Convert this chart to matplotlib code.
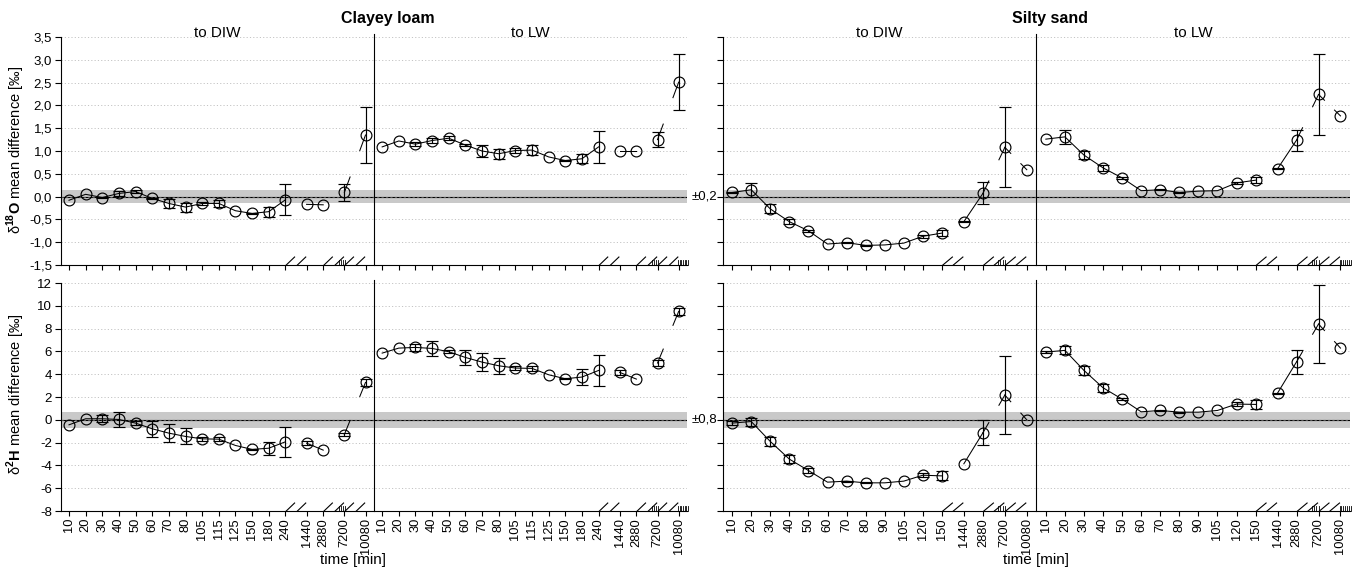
import matplotlib.pyplot as plt
import numpy as np
from matplotlib.ticker import FuncFormatter, MultipleLocator
from matplotlib.transforms import blended_transform_factory

plt.rcParams['font.family'] = ['Liberation Sans', 'DejaVu Sans']
plt.rcParams['mathtext.fontset'] = 'custom'
plt.rcParams['mathtext.rm'] = 'Liberation Sans'
plt.rcParams['mathtext.bf'] = 'Liberation Sans:bold'

# time steps [min]
clay_times = ['10', '20', '30', '40', '50', '60', '70', '80', '105', '115', '125',
              '150', '180', '240', '1440', '2880', '7200', '10080']
sand_times = ['10', '20', '30', '40', '50', '60', '70', '80', '90', '105', '120',
              '150', '1440', '2880', '7200', '10080']

# d18O, clayey loam
clay_o_diw = [-0.08, 0.05, -0.02, 0.07, 0.11, -0.04, -0.15, -0.23, -0.15, -0.15, -0.31,
              -0.37, -0.33, -0.07, -0.17, -0.18, 0.09, 1.35]
clay_o_diw_err = [0, 0, 0.02, 0.05, 0.04, 0.02, 0.1, 0.1, 0.04, 0.08, 0,
                  0.01, 0.11, 0.34, 0, 0, 0.18, 0.62]
clay_o_lw = [1.09, 1.22, 1.15, 1.23, 1.28, 1.13, 1.00, 0.94, 1.01, 1.02, 0.87,
             0.79, 0.83, 1.09, 0.99, 0.99, 1.25, 2.51]
clay_o_lw_err = [0, 0, 0.04, 0.05, 0.04, 0.02, 0.13, 0.11, 0.05, 0.11, 0,
                 0.01, 0.1, 0.35, 0, 0, 0.16, 0.62]

# d18O, silty sand
sand_o_diw = [0.09, 0.15, -0.27, -0.55, -0.75, -1.04, -1.01, -1.07, -1.06, -1.02, -0.87,
              -0.80, -0.55, 0.07, 1.08, 0.59]
sand_o_diw_err = [0.01, 0.15, 0.1, 0.06, 0.02, 0, 0.01, 0.01, 0, 0, 0.03,
                  0.06, 0.01, 0.24, 0.88, 0]
sand_o_lw = [1.26, 1.31, 0.91, 0.63, 0.41, 0.13, 0.15, 0.09, 0.12, 0.13, 0.30,
             0.36, 0.61, 1.24, 2.24, 1.77]
sand_o_lw_err = [0, 0.15, 0.08, 0.06, 0.02, 0, 0.01, 0.01, 0, 0, 0.03,
                 0.06, 0.01, 0.23, 0.88, 0]

# d2H, clayey loam
clay_h_diw = [-0.44, 0.09, 0.09, 0.03, -0.29, -0.79, -1.17, -1.46, -1.67, -1.70, -2.25,
              -2.60, -2.49, -1.93, -2.05, -2.66, -1.29, 3.28]
clay_h_diw_err = [0, 0, 0.3, 0.66, 0.2, 0.69, 0.8, 0.7, 0.15, 0.2, 0,
                  0.05, 0.57, 1.32, 0.15, 0, 0.15, 0.3]
clay_h_lw = [5.85, 6.29, 6.35, 6.26, 5.97, 5.47, 5.06, 4.74, 4.54, 4.51, 3.95,
             3.60, 3.75, 4.33, 4.16, 3.57, 4.98, 9.51]
clay_h_lw_err = [0, 0, 0.3, 0.66, 0.15, 0.66, 0.8, 0.69, 0.15, 0.2, 0,
                 0.05, 0.69, 1.33, 0.2, 0, 0.3, 0.3]

# d2H, silty sand
sand_h_diw = [-0.29, -0.15, -1.90, -3.45, -4.45, -5.47, -5.38, -5.53, -5.53, -5.38, -4.86,
              -4.92, -3.86, -1.14, 2.17, 0.0]
sand_h_diw_err = [0.2, 0.35, 0.4, 0.35, 0.2, 0, 0.05, 0.05, 0, 0, 0.15,
                  0.4, 0, 1.1, 3.42, 0]
sand_h_lw = [5.94, 6.09, 4.33, 2.81, 1.81, 0.70, 0.82, 0.67, 0.67, 0.82, 1.38,
             1.35, 2.34, 5.09, 8.40, 6.29]
sand_h_lw_err = [0.1, 0.35, 0.4, 0.35, 0.1, 0, 0.05, 0.05, 0, 0, 0.15,
                 0.4, 0.05, 1.07, 3.44, 0]


def half_positions(n, breaks, gap):
    pos, x = [], 0.0
    for i in range(n):
        pos.append(x)
        x += 1 + (gap if i in breaks else 0)
    return np.array(pos)


def draw_series(ax, x, y, err, groups, stubs):
    y = np.asarray(y, float)
    err = np.asarray(err, float)
    for a, b in groups:
        ax.plot(x[a:b + 1], y[a:b + 1], color='black', lw=0.75, zorder=3)
    for a, b in stubs:
        dx, dy = x[b] - x[a], y[b] - y[a]
        ax.plot([x[a], x[a] + 0.27 * dx], [y[a], y[a] + 0.27 * dy], color='black', lw=0.75, zorder=3)
        ax.plot([x[b] - 0.27 * dx, x[b]], [y[b] - 0.27 * dy, y[b]], color='black', lw=0.75, zorder=3)
    m = err > 0
    ax.errorbar(x[m], y[m], yerr=err[m], fmt='none', ecolor='black', elinewidth=0.85,
                capsize=4.5, capthick=0.85, zorder=3)
    ax.plot(x, y, 'o', ms=7.8, mfc='none', mec='black', mew=0.85, zorder=4)


def draw_panel(ax, times, diw, diw_err, lw, lw_err, breaks, gap, groups, stubs,
               ylim, ystep, band, fmt, show_xlabels, show_ylabels):
    n = len(times)
    p_diw = half_positions(n, breaks, gap)
    p_lw = p_diw + p_diw[-1] + 1.0
    divider = p_diw[-1] + 0.5

    ax.axhspan(-band, band, color='#c9c9c9', lw=0, zorder=1)
    for v in np.arange(ylim[0] + ystep, ylim[1] + 1e-9, ystep):
        if abs(v) > 1e-9:
            ax.axhline(v, color='#c4c4c4', lw=0.7, ls=(0, (1.2, 2.2)), zorder=0)
    ax.axhline(0, color='black', lw=0.8, zorder=2)
    ax.axhline(0, color='#555555', lw=0.8, ls=(0, (2, 2)), zorder=2)
    ax.axvline(divider, ymax=1.015, color='black', lw=0.8, zorder=2, clip_on=False)

    draw_series(ax, p_diw, diw, diw_err, groups, stubs)
    draw_series(ax, p_lw, lw, lw_err, groups, stubs)

    ax.set_xlim(-0.48, p_lw[-1] + 0.5)
    ax.set_ylim(*ylim)
    ax.yaxis.set_major_locator(MultipleLocator(ystep))
    ax.yaxis.set_major_formatter(FuncFormatter(fmt))
    ax.set_xticks(np.concatenate([p_diw, p_lw]))
    ax.set_xticklabels(times + times, rotation=90, fontsize=9.3)
    ax.tick_params(axis='y', labelsize=9.5, length=4, width=0.8, direction='out', pad=2.5)
    ax.tick_params(axis='x', length=3.5, width=0.8, direction='out', pad=1.5)
    if not show_xlabels:
        ax.tick_params(axis='x', labelbottom=False)
    if not show_ylabels:
        ax.tick_params(axis='y', labelleft=False)
    for s in ('top', 'right'):
        ax.spines[s].set_visible(False)
    for s in ('left', 'bottom'):
        ax.spines[s].set_linewidth(0.8)

    # axis break marks
    tr = blended_transform_factory(ax.transData, ax.transAxes)
    for p in (p_diw, p_lw):
        for i in breaks:
            for xc in (p[i] + 0.3, p[i + 1] - 0.3):
                ax.plot([xc - 0.25, xc + 0.25], [0.0, 0.035], color='black', lw=0.8,
                        transform=tr, clip_on=False, zorder=5)
        for k in range(4):
            xc = p[n - 2] - 0.35 + k * 0.12
            ax.plot([xc, xc], [0.0, 0.02], color='black', lw=0.6, transform=tr, clip_on=False)
    for k in range(7):
        xc = p_lw[-1] - 0.05 + k * 0.1
        ax.plot([xc, xc], [0.0, 0.02], color='black', lw=0.6, transform=tr, clip_on=False)

    return p_diw, p_lw, divider


fmt_o = lambda v, pos: f'{v:.1f}'.replace('.', ',')
fmt_h = lambda v, pos: f'{v:.0f}'

fig = plt.figure(figsize=(13.55, 5.7), dpi=100)
left_x, left_w = 61 / 1355, 626 / 1355
right_x, right_w = 723 / 1355, 627 / 1355
top_y, bot_y, h = 1 - 265 / 570, 1 - 511 / 570, 228 / 570

ax_co = fig.add_axes([left_x, top_y, left_w, h])
ax_so = fig.add_axes([right_x, top_y, right_w, h])
ax_ch = fig.add_axes([left_x, bot_y, left_w, h])
ax_sh = fig.add_axes([right_x, bot_y, right_w, h])

clay_groups = [(0, 13), (14, 15)]
clay_stubs = [(16, 17)]
sand_groups = [(0, 11), (12, 13)]
sand_stubs = [(13, 14), (14, 15)]

res_c = draw_panel(ax_co, clay_times, clay_o_diw, clay_o_diw_err, clay_o_lw, clay_o_lw_err,
                   {13, 15, 16}, 0.27, clay_groups, clay_stubs, (-1.5, 3.5), 0.5, 0.15,
                   fmt_o, False, True)
res_s = draw_panel(ax_so, sand_times, sand_o_diw, sand_o_diw_err, sand_o_lw, sand_o_lw_err,
                   {11, 13, 14}, 0.15, sand_groups, sand_stubs, (-1.5, 3.5), 0.5, 0.15,
                   fmt_o, False, False)
draw_panel(ax_ch, clay_times, clay_h_diw, clay_h_diw_err, clay_h_lw, clay_h_lw_err,
           {13, 15, 16}, 0.27, clay_groups, clay_stubs, (-8, 12), 2, 0.7,
           fmt_h, True, True)
draw_panel(ax_sh, sand_times, sand_h_diw, sand_h_diw_err, sand_h_lw, sand_h_lw_err,
           {11, 13, 14}, 0.15, sand_groups, sand_stubs, (-8, 12), 2, 0.7,
           fmt_h, True, False)

# "to DIW" / "to LW" headers
for ax, (p_diw, p_lw, div) in ((ax_co, res_c), (ax_so, res_s)):
    tr = blended_transform_factory(ax.transData, ax.transAxes)
    x0, x1 = ax.get_xlim()
    ax.text((x0 + div) / 2, 1.018, 'to DIW', transform=tr, ha='center', va='center', fontsize=11)
    ax.text((div + x1) / 2, 1.018, 'to LW', transform=tr, ha='center', va='center', fontsize=11)

ax_co.text(1.008, 0, '±0,2', transform=blended_transform_factory(ax_co.transAxes, ax_co.transData),
           ha='left', va='center', fontsize=9.5)
ax_ch.text(1.008, 0, '±0,8', transform=blended_transform_factory(ax_ch.transAxes, ax_ch.transData),
           ha='left', va='center', fontsize=9.5)

fig.text(388 / 1355, 1 - 18 / 570, 'Clayey loam', ha='center', va='center', fontsize=11.5, fontweight='bold')
fig.text(1050 / 1355, 1 - 18 / 570, 'Silty sand', ha='center', va='center', fontsize=11.5, fontweight='bold')

fig.text(16 / 1355, 1 - 150 / 570, r'δ$^{\mathbf{18}}\mathbf{O}$ mean difference [‰]',
         rotation=90, ha='center', va='center', fontsize=10.5)
fig.text(16 / 1355, 1 - 394 / 570, r'δ$^{\mathbf{2}}\mathbf{H}$ mean difference [‰]',
         rotation=90, ha='center', va='center', fontsize=10.5)

fig.text(353 / 1355, 1 - 560 / 570, 'time [min]', ha='center', va='center', fontsize=11)
fig.text(1036 / 1355, 1 - 560 / 570, 'time [min]', ha='center', va='center', fontsize=11)

fig.savefig('out.png', dpi=100, facecolor='white')
plt.close(fig)
